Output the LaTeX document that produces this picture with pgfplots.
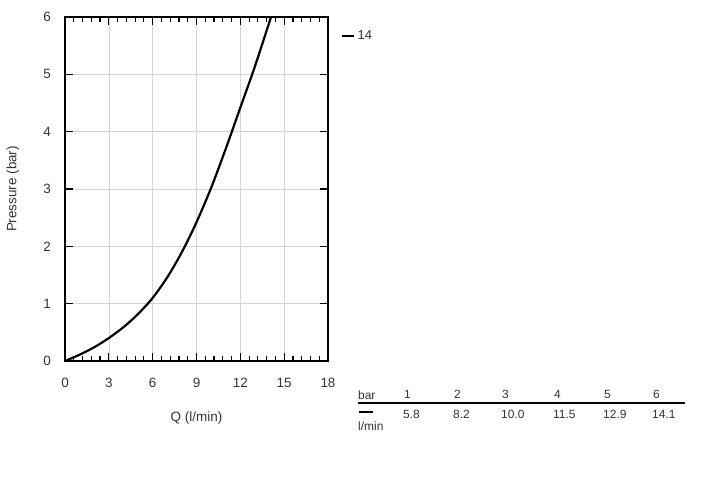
\documentclass[border=0pt]{standalone}
\usepackage{fontspec}
\setmainfont{Liberation Sans}
\usepackage{pgfplots}
\pgfplotsset{compat=1.18}
\definecolor{txt}{HTML}{333333}
\definecolor{gridc}{HTML}{D4D4D4}
\begin{document}
\begin{tikzpicture}
\path[use as bounding box] (0,0) rectangle (718bp,478bp);
\begin{axis}[
  at={(65bp,117bp)}, anchor=south west,
  scale only axis, width=263bp, height=344bp,
  xmin=0, xmax=18, ymin=0, ymax=6,
  xtick={0,3,...,18}, ytick={0,1,...,6},
  minor x tick num=4,
  tick align=inside,
  major tick length=8bp, minor tick length=5bp,
  every tick/.style={black, line width=1.2pt},
  axis line style={black, line width=1.6pt},
  xmajorgrids, ymajorgrids,
  major grid style={gridc, line width=0.6pt},
  /pgf/number format/assume math mode=true,
  tick label style={font=\fontsize{13.5}{15}\selectfont, text=txt},
  xticklabel style={anchor=center, yshift=-22bp},
  yticklabel style={anchor=center, xshift=-18bp},
  xlabel={Q (l/min)}, ylabel={Pressure (bar)},
  label style={font=\fontsize{13.5}{15}\selectfont, text=txt},
  xlabel style={at={(axis description cs:0.5,0)}, anchor=center, yshift=-57bp},
  ylabel style={at={(axis description cs:-0.198,0.5)}, anchor=center},
  legend style={at={(1.049,0.945)}, anchor=west, draw=none, fill=none,
    inner sep=0pt, font=\fontsize{13}{15}\selectfont, text=txt},
  legend image code/.code={\draw[line width=2.6pt, black] (0bp,0bp) -- (12bp,0bp);},
]
\addplot[black, line width=2.2pt, smooth] coordinates {
  (0,0) (1,0.11) (2,0.24) (3,0.40) (4,0.59) (5,0.82) (6,1.10)
  (7,1.46) (8,1.90) (9,2.42) (10,3.02) (11,3.70) (12,4.42) (13,5.14) (14.1,6.0)};
\addlegendentry{14}
\end{axis}
% pressure / flow table
\begin{scope}[every node/.style={font=\fontsize{12}{14}\selectfont, text=txt, inner sep=0pt}]
\draw[black, line width=2.6pt] (358bp,75bp) -- (685bp,75bp);
\node[anchor=west] at (358bp,83bp) {bar};
\node[anchor=west] at (404bp,84bp) {1};
\node[anchor=west] at (454bp,84bp) {2};
\node[anchor=west] at (502bp,84bp) {3};
\node[anchor=west] at (554bp,84bp) {4};
\node[anchor=west] at (604bp,84bp) {5};
\node[anchor=west] at (653bp,84bp) {6};
\draw[black, line width=2.6pt] (359bp,66bp) -- (373bp,66bp);
\node[anchor=west] at (358bp,52bp) {l/min};
\node[anchor=west] at (403bp,64bp) {5.8};
\node[anchor=west] at (453bp,64bp) {8.2};
\node[anchor=west] at (501bp,64bp) {10.0};
\node[anchor=west] at (553bp,64bp) {11.5};
\node[anchor=west] at (603bp,64bp) {12.9};
\node[anchor=west] at (652bp,64bp) {14.1};
\end{scope}
\end{tikzpicture}
\end{document}
